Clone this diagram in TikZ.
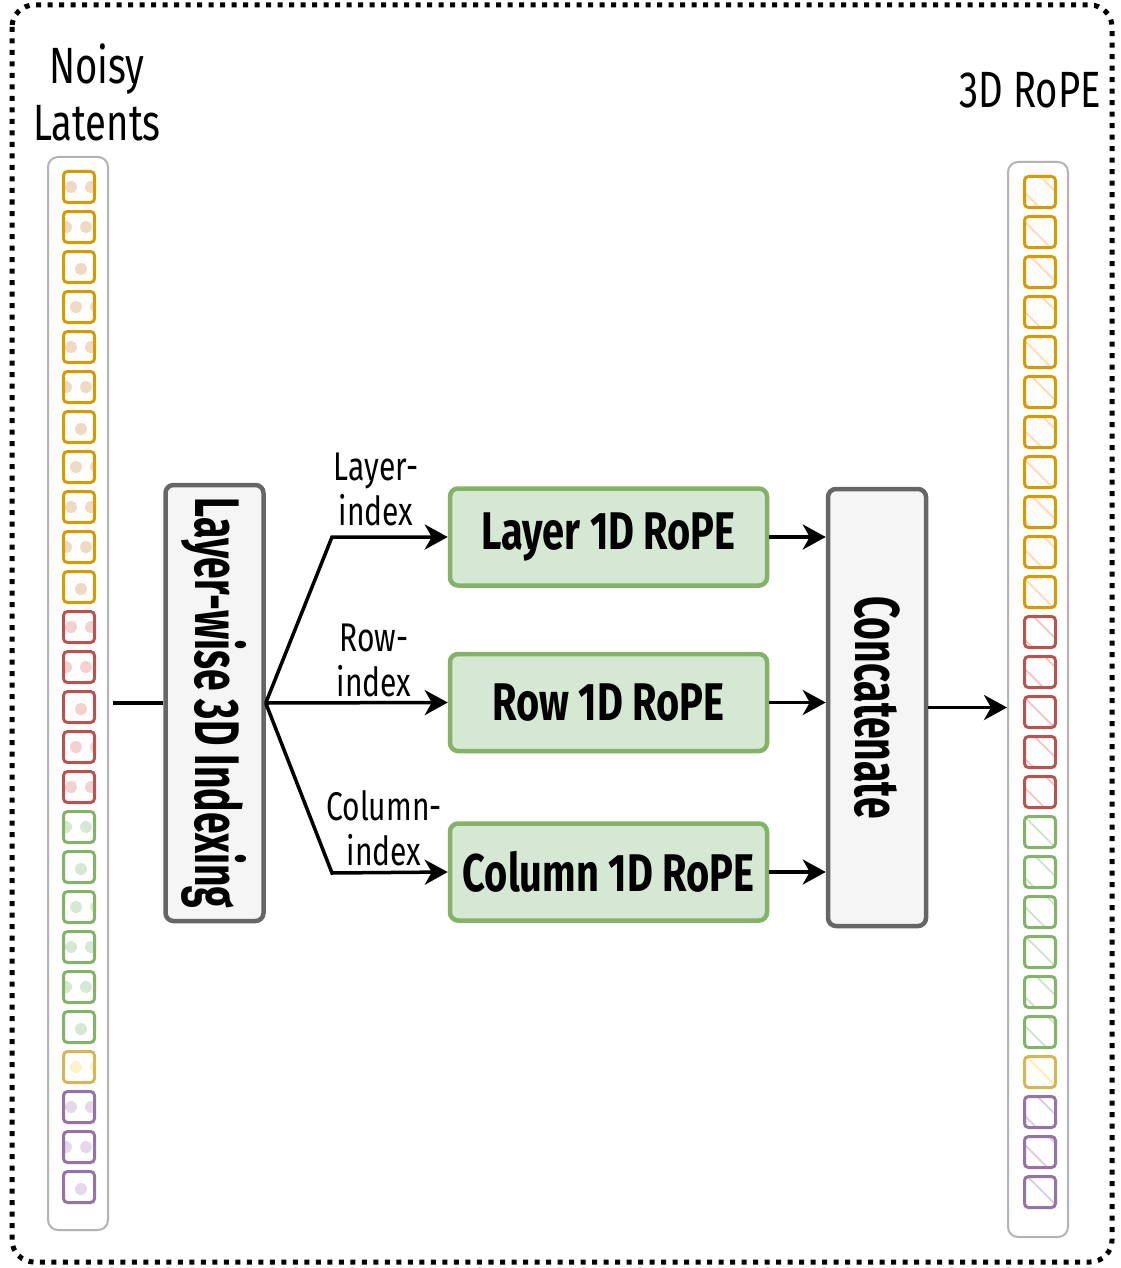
\documentclass[tikz,border=0pt]{standalone}
\usepackage{fontspec}
\usepackage{graphicx}
\setmainfont{Fira Sans}[FakeStretch=0.75]
\newfontfamily\narrowfont{Fira Sans}[FakeStretch=0.62]
\usetikzlibrary{arrows.meta}
\definecolor{lnorg}{HTML}{D79B00}
\definecolor{lnred}{HTML}{B85450}
\definecolor{lngrn}{HTML}{82B366}
\definecolor{lnylw}{HTML}{D6B656}
\definecolor{lnpur}{HTML}{9673A6}
\definecolor{dotorg}{HTML}{EFD9C3}
\definecolor{dotred}{HTML}{F6CFCF}
\definecolor{dotgrn}{HTML}{D5E8D4}
\definecolor{dotylw}{HTML}{FFF0C6}
\definecolor{dotpur}{HTML}{E4D8EA}
\definecolor{hatorg}{HTML}{FFD9B8}
\definecolor{hatred}{HTML}{F5C8C8}
\definecolor{hatgrn}{HTML}{CFE5CD}
\definecolor{hatylw}{HTML}{FFEBB8}
\definecolor{hatpur}{HTML}{DCCDE6}
\definecolor{grnfill}{HTML}{D5E8D4}
\definecolor{grayfill}{HTML}{F5F5F5}
\definecolor{grayline}{HTML}{666666}
\definecolor{contline}{HTML}{B3B3B3}
\begin{document}
\begin{tikzpicture}[x=1pt,y=-1pt,
  cont/.style={draw=contline, line width=2pt, rounded corners=10pt, minimum width=60pt, inner sep=0pt},
  rope/.style={draw=lngrn, fill=grnfill, line width=4.5pt, rounded corners=8pt, minimum width=317pt, minimum height=97pt, inner sep=0pt, font=\bfseries\fontsize{53}{56}\selectfont},
  graybox/.style={draw=grayline, fill=grayfill, line width=4.5pt, rounded corners=8pt, minimum width=98pt, inner sep=0pt, font=\narrowfont\bfseries\fontsize{63}{64}\selectfont},
  arr/.style={line width=3.5pt, -{Stealth[length=23pt,width=25pt,inset=7pt]}},
  lab/.style={align=center, font=\fontsize{40}{45}\selectfont, inner sep=0pt},
  ttl/.style={align=center, font=\fontsize{51}{57}\selectfont, inner sep=0pt}
]
\useasboundingbox (0,0) rectangle (1120,1268);
\draw[line width=5pt, dash pattern=on 5pt off 6.5pt, rounded corners=22pt] (12,5) rectangle (1112,1262);

% titles
\node[ttl] (t1) at (97,92) {Noisy\\Latents};
\node[ttl, anchor=east] (t2) at (1101,90) {3D RoPE};

% containers
\node[cont, minimum height=1073pt] (lcol) at (78,693.5) {};
\node[cont, minimum height=1075pt] (rcol) at (1038,699.5) {};

% left latent boxes
\foreach \i/\col/\k in {0/org/0,1/org/1,2/org/2,3/org/3,4/org/0,5/org/1,6/org/2,7/org/3,8/org/0,9/org/1,10/org/2,11/red/0,12/red/1,13/red/2,14/red/3,15/red/0,16/grn/1,17/grn/2,18/grn/3,19/grn/0,20/grn/1,21/grn/2,22/ylw/3,23/pur/0,24/pur/1,25/pur/2}{
  \pgfmathsetmacro\yy{187+40*\i}
  \begin{scope}
    \clip[rounded corners=4pt] (63.5,\yy-15.5) rectangle (94.5,\yy+15.5);
    \ifcase\k
      \fill[dot\col] (71,\yy) circle (6pt) (91,\yy) circle (6pt);
    \or
      \fill[dot\col] (66,\yy) circle (6pt) (86,\yy) circle (6pt);
    \or
      \fill[dot\col] (81,\yy+2) circle (6pt);
    \or
      \fill[dot\col] (76,\yy) circle (6pt) (96,\yy) circle (6pt);
    \fi
  \end{scope}
  \draw[ln\col, line width=3pt, rounded corners=4pt] (63.5,\yy-15.5) rectangle (94.5,\yy+15.5);
}

% right rope boxes
\foreach \i/\col in {0/org,1/org,2/org,3/org,4/org,5/org,6/org,7/org,8/org,9/org,10/org,11/red,12/red,13/red,14/red,15/red,16/grn,17/grn,18/grn,19/grn,20/grn,21/grn,22/ylw,23/pur,24/pur,25/pur}{
  \pgfmathsetmacro\yy{192+40*\i}
  \pgfmathsetmacro\xa{1040+mod(\i*11,32)-16}
  \pgfmathsetmacro\xb{\xa-32}
  \pgfmathsetmacro\xc{\xa+32}
  \begin{scope}
    \clip[rounded corners=4pt] (1024.5,\yy-15.5) rectangle (1055.5,\yy+15.5);
    \draw[hat\col, line width=2pt]
      (\xa-40,\yy-40) -- (\xa+40,\yy+40)
      (\xb-40,\yy-40) -- (\xb+40,\yy+40)
      (\xc-40,\yy-40) -- (\xc+40,\yy+40);
  \end{scope}
  \draw[ln\col, line width=3pt, rounded corners=4pt] (1024.5,\yy-15.5) rectangle (1055.5,\yy+15.5);
}

% main blocks
\node[graybox, minimum height=436pt] (idx) at (214.5,703) {\rotatebox{-90}{Layer-wise 3D Indexing}};
\node[rope] (layer) at (608.5,537) {Layer 1D RoPE};
\node[rope] (row) at (608.5,702.5) {Row 1D RoPE};
\node[rope] (column) at (608.5,872) {Column 1D RoPE};
\node[graybox, minimum height=437pt] (concat) at (877,707.5) {\rotatebox{-90}{Concatenate}};

% labels
\node[lab] (l1) at (376,489) {Layer-\\index};
\node[lab] (l2) at (374,660) {Row-\\index};
\node[lab] (l3) at (384,828) {Column-\\index};

% connectors
\coordinate (inp) at (113,703);
\coordinate (kL) at (332,537);
\coordinate (kC) at (332,873);
\draw[line width=3.5pt] (inp) -- (idx.west);
\draw[arr] (idx.east) -- (kL) -- (layer.west);
\draw[arr] (idx.east) -- (row.west);
\draw[arr] (idx.east) -- (kC) -- (column.west);
\draw[arr] (layer.east) -- (layer.east -| concat.west);
\draw[arr] (row.east) -- (row.east -| concat.west);
\draw[arr] (column.east) -- (column.east -| concat.west);
\draw[arr] (concat.east) -- (concat.east -| rcol.west);
\end{tikzpicture}
\end{document}
